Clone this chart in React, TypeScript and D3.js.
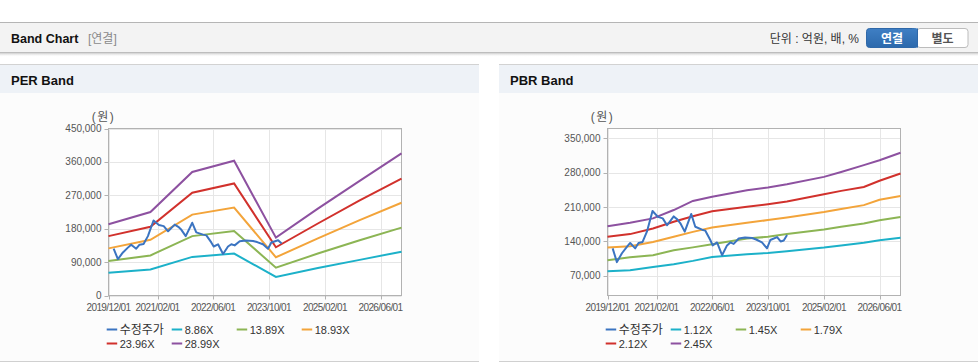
import React from 'react';
import * as d3 from 'd3';

// ---------- DATA ----------
const xTickDates = ['2019-12-01', '2021-02-01', '2022-06-01', '2023-10-01', '2025-02-01', '2026-06-01'];

const perTicks = [0, 90000, 180000, 270000, 360000, 450000];
const pbrTicks = [70000, 140000, 210000, 280000, 350000];

const perDates = ['2019-12-01', '2020-12-01', '2021-12-01', '2022-12-01', '2023-12-01', '2024-12-01', '2025-12-01', '2026-12-01'];
const per886 = [61000, 70000, 104000, 113000, 50000, 74000, 96000, 118000];
const per1389 = [93000, 108000, 160000, 174000, 75000, 113000, 149000, 183000];
const per1893 = [127000, 150000, 218000, 237000, 103000, 154000, 203000, 250000];
const per2396 = [160000, 185000, 277000, 302000, 130000, 194000, 256000, 315000];
const per2899 = [192000, 225000, 333000, 363000, 156000, 234000, 309000, 383000];

const pbrDates = ['2019-12-01', '2020-06-15', '2021-01-01', '2021-07-01', '2021-12-15', '2022-06-01', '2023-04-01', '2023-10-01', '2024-03-15', '2025-02-01', '2025-07-01', '2026-01-15', '2026-06-01', '2026-12-01'];
const pbr112 = [79500, 81500, 88000, 93500, 100500, 108500, 114000, 116500, 120000, 127500, 132000, 137500, 142500, 147500];
const pbr145 = [102000, 108000, 112000, 122000, 128000, 134500, 146000, 149500, 155000, 164500, 170000, 176500, 183000, 190000];
const pbr179 = [127500, 130500, 139000, 149500, 159500, 168500, 178000, 183500, 189000, 200000, 206000, 214000, 225000, 232500];
const pbr212 = [149500, 155000, 166500, 180000, 191500, 201500, 210500, 216000, 221500, 236000, 243000, 251000, 263500, 278500];
const pbr245 = [171000, 178000, 187000, 204000, 222500, 231000, 244500, 250000, 256500, 271500, 281500, 295500, 305500, 320500];

const priceDates = ['2020-01-15', '2020-02-21', '2020-04-05', '2020-05-18', '2020-06-16', '2020-07-30', '2020-08-28', '2020-10-02', '2020-11-09', '2020-12-28', '2021-02-13', '2021-03-27', '2021-05-04', '2021-07-01', '2021-08-01', '2021-08-28', '2021-10-05', '2021-12-01', '2022-01-05', '2022-03-05', '2022-04-03', '2022-05-16', '2022-06-06', '2022-07-14', '2022-08-27', '2022-10-09', '2022-11-07', '2022-12-06', '2023-01-19', '2023-03-15', '2023-05-16', '2023-06-20', '2023-08-10', '2023-09-23', '2023-10-22', '2023-12-20', '2024-01-20', '2024-02-16', '2024-03-16'];
const priceValues = [126000, 98000, 116000, 129000, 137000, 126000, 137000, 139000, 160000, 202000, 190000, 187000, 173000, 191000, 185000, 177000, 160000, 196000, 170000, 164000, 162000, 143000, 132000, 138000, 112000, 132000, 138000, 135000, 146000, 148000, 147000, 144000, 138000, 126000, 143000, 149000, 140000, 142000, 153000];
const perPriceEnd = '2024-01-20';

const perLabels = ['수정주가', '8.86X', '13.89X', '18.93X', '23.96X', '28.99X'];
const pbrLabels = ['수정주가', '1.12X', '1.45X', '1.79X', '2.12X', '2.45X'];
const colors = ['#3b74c1', '#1cb1c9', '#8cb554', '#f3a43a', '#d1312c', '#8d51a0'];

// ---------- HELPERS ----------
const parse = d3.utcParse('%Y-%m-%d');
const fmtDate = d3.utcFormat('%Y/%m/%d');
const fmtNum = d3.format(',');
const FONT = "'Liberation Sans', Arial, 'Noto Sans CJK KR', sans-serif";
const KFONT = "'Liberation Sans', 'Noto Sans CJK KR', sans-serif";

type ChartProps = {
  px: number;
  title: string;
  dates: string[];
  bands: number[][];
  labels: string[];
  yDomain: [number, number];
  yTicks: number[];
  priceEnd?: string;
};

function BandChart({ px, title, dates, bands, labels, yDomain, yTicks, priceEnd }: ChartProps) {
  const left = px + 108.5;
  const right = px + 401.5;
  const top = 128.5;
  const bottom = 295.5;
  const x = d3.scaleUtc().domain([parse('2019-12-01')!, parse('2026-12-01')!]).range([left, right]);
  const y = d3.scaleLinear().domain(yDomain).range([bottom, top]);
  const line = d3
    .line<[Date, number]>()
    .x((d) => x(d[0]))
    .y((d) => y(d[1]));
  const bandDates = dates.map((d) => parse(d)!);
  const endDate = priceEnd ? parse(priceEnd)! : null;
  const pricePts: [Date, number][] = priceDates
    .map((d, i) => [parse(d)!, priceValues[i]] as [Date, number])
    .filter((p) => !endDate || p[0] <= endDate);
  const xt = xTickDates.map((d) => parse(d)!);

  const legendCols = [-1.8, 63.2, 128.2, 193.2];

  return (
    <g>
      {/* panel */}
      <rect x={px} y={64} width={479} height={298} fill="#fcfcfc" />
      <rect x={px} y={64.5} width={479} height={28.5} fill="#eef2f7" />
      <line x1={px} x2={px + 479} y1={64.5} y2={64.5} stroke="#d2d2d2" />
      <line x1={px} x2={px + 479} y1={361.5} y2={361.5} stroke="#d0d0d0" />
      <text x={px + 11} y={85} fontFamily={FONT} fontWeight="bold" fontSize={13} fill="#111">
        {title}
      </text>

      {/* plot */}
      <rect x={left} y={top} width={right - left} height={bottom - top} fill="#fff" />
      {yTicks.map((t) => (
        <line key={'gy' + t} x1={left} x2={right} y1={Math.round(y(t)) + 0.5} y2={Math.round(y(t)) + 0.5} stroke="#e6e6e6" />
      ))}
      {xt.map((t, i) => (
        <line key={'gx' + i} x1={Math.round(x(t)) + 0.5} x2={Math.round(x(t)) + 0.5} y1={top} y2={bottom} stroke="#e6e6e6" />
      ))}
      <rect x={left} y={top} width={right - left} height={bottom - top} fill="none" stroke="#b2b2b2" />
      {yTicks.map((t) => (
        <g key={'ty' + t}>
          <line x1={left - 4} x2={left} y1={Math.round(y(t)) + 0.5} y2={Math.round(y(t)) + 0.5} stroke="#b2b2b2" />
          <text x={left - 7} y={y(t) + 3.5} textAnchor="end" fontFamily={FONT} fontSize={10} fill="#555">
            {fmtNum(t)}
          </text>
        </g>
      ))}
      {xt.map((t, i) => (
        <g key={'tx' + i}>
          <line x1={Math.round(x(t)) + 0.5} x2={Math.round(x(t)) + 0.5} y1={bottom} y2={bottom + 4} stroke="#b2b2b2" />
          <text x={x(t)} y={310.5} textAnchor="middle" fontFamily={FONT} fontSize={10} letterSpacing={-0.6} fill="#555">
            {fmtDate(t)}
          </text>
        </g>
      ))}
      <text x={left - 5} y={121} textAnchor="middle" fontFamily={KFONT} fontSize={12} letterSpacing={1.5} fill="#555">
        (원)
      </text>

      {/* bands */}
      {bands.map((vals, bi) => (
        <path
          key={'b' + bi}
          d={line(bandDates.map((d, i) => [d, vals[i]] as [Date, number])) || ''}
          fill="none"
          stroke={colors[bi + 1]}
          strokeWidth={2}
        />
      ))}
      <path d={line(pricePts) || ''} fill="none" stroke={colors[0]} strokeWidth={2} strokeLinejoin="round" />

      {/* legend */}
      {labels.map((lab, i) => {
        const row = i < 4 ? 0 : 1;
        const col = i < 4 ? i : i - 4;
        const lx = left + legendCols[col];
        const ly = row === 0 ? 329.5 : 343.5;
        const korean = /[가-힣]/.test(lab);
        return (
          <g key={'l' + i}>
            <line x1={lx} x2={lx + 10.5} y1={ly} y2={ly} stroke={colors[i]} strokeWidth={2} />
            <text x={lx + 13} y={ly + 4} fontFamily={KFONT} fontSize={korean ? 12 : 11} fill="#333">
              {lab}
            </text>
          </g>
        );
      })}
    </g>
  );
}

export default function App() {
  return (
    <svg
      width={978}
      height={364}
      style={{ position: 'absolute', left: 0, top: 0, display: 'block' }}
      xmlns="http://www.w3.org/2000/svg"
    >
      <defs>
        <linearGradient id="shadow" x1="0" y1="0" x2="0" y2="1">
          <stop offset="0" stopColor="#c8c8c8" stopOpacity="0.9" />
          <stop offset="1" stopColor="#ffffff" stopOpacity="0" />
        </linearGradient>
        <linearGradient id="btn" x1="0" y1="0" x2="0" y2="1">
          <stop offset="0" stopColor="#3f7fc4" />
          <stop offset="1" stopColor="#2c69ac" />
        </linearGradient>
      </defs>
      <rect x={0} y={0} width={978} height={364} fill="#fff" />
      {/* top header bar */}
      <rect x={0} y={22} width={978} height={31} fill="#f3f3f3" />
      <line x1={0} x2={978} y1={22.5} y2={22.5} stroke="#b5b5b5" />
      <line x1={0} x2={978} y1={52.5} y2={52.5} stroke="#bdbdbd" />
      <rect x={0} y={53} width={978} height={4} fill="url(#shadow)" />
      <text x={11} y={43} fontFamily={FONT} fontWeight="bold" fontSize={12.5} fill="#111">
        Band Chart
      </text>
      <text x={88} y={43} fontFamily={KFONT} fontSize={12} fill="#8a8a8a">
        [연결]
      </text>
      <text x={859} y={43} textAnchor="end" fontFamily={KFONT} fontSize={12} fill="#333">
        단위 : 억원, 배, %
      </text>
      <rect x={917} y={28.5} width={51} height={19} rx={3} fill="#fff" stroke="#bcbcbc" />
      <rect x={866.5} y={28.5} width={51} height={19} rx={3} fill="url(#btn)" stroke="#2f68a8" />
      <rect x={912} y={28.5} width={5.5} height={19} fill="url(#btn)" />
      <line x1={917.5} x2={917.5} y1={28.5} y2={47.5} stroke="#2f68a8" />
      <text x={892} y={42.5} textAnchor="middle" fontFamily={KFONT} fontWeight="bold" fontSize={12} fill="#fff">
        연결
      </text>
      <text x={942.5} y={42.5} textAnchor="middle" fontFamily={KFONT} fontWeight="bold" fontSize={12} fill="#555">
        별도
      </text>

      <BandChart
        px={0}
        title="PER Band"
        dates={perDates}
        bands={[per886, per1389, per1893, per2396, per2899]}
        labels={perLabels}
        yDomain={[0, 450000]}
        yTicks={perTicks}
        priceEnd={perPriceEnd}
      />
      <BandChart
        px={499}
        title="PBR Band"
        dates={pbrDates}
        bands={[pbr112, pbr145, pbr179, pbr212, pbr245]}
        labels={pbrLabels}
        yDomain={[30000, 370000]}
        yTicks={pbrTicks}
      />
    </svg>
  );
}
